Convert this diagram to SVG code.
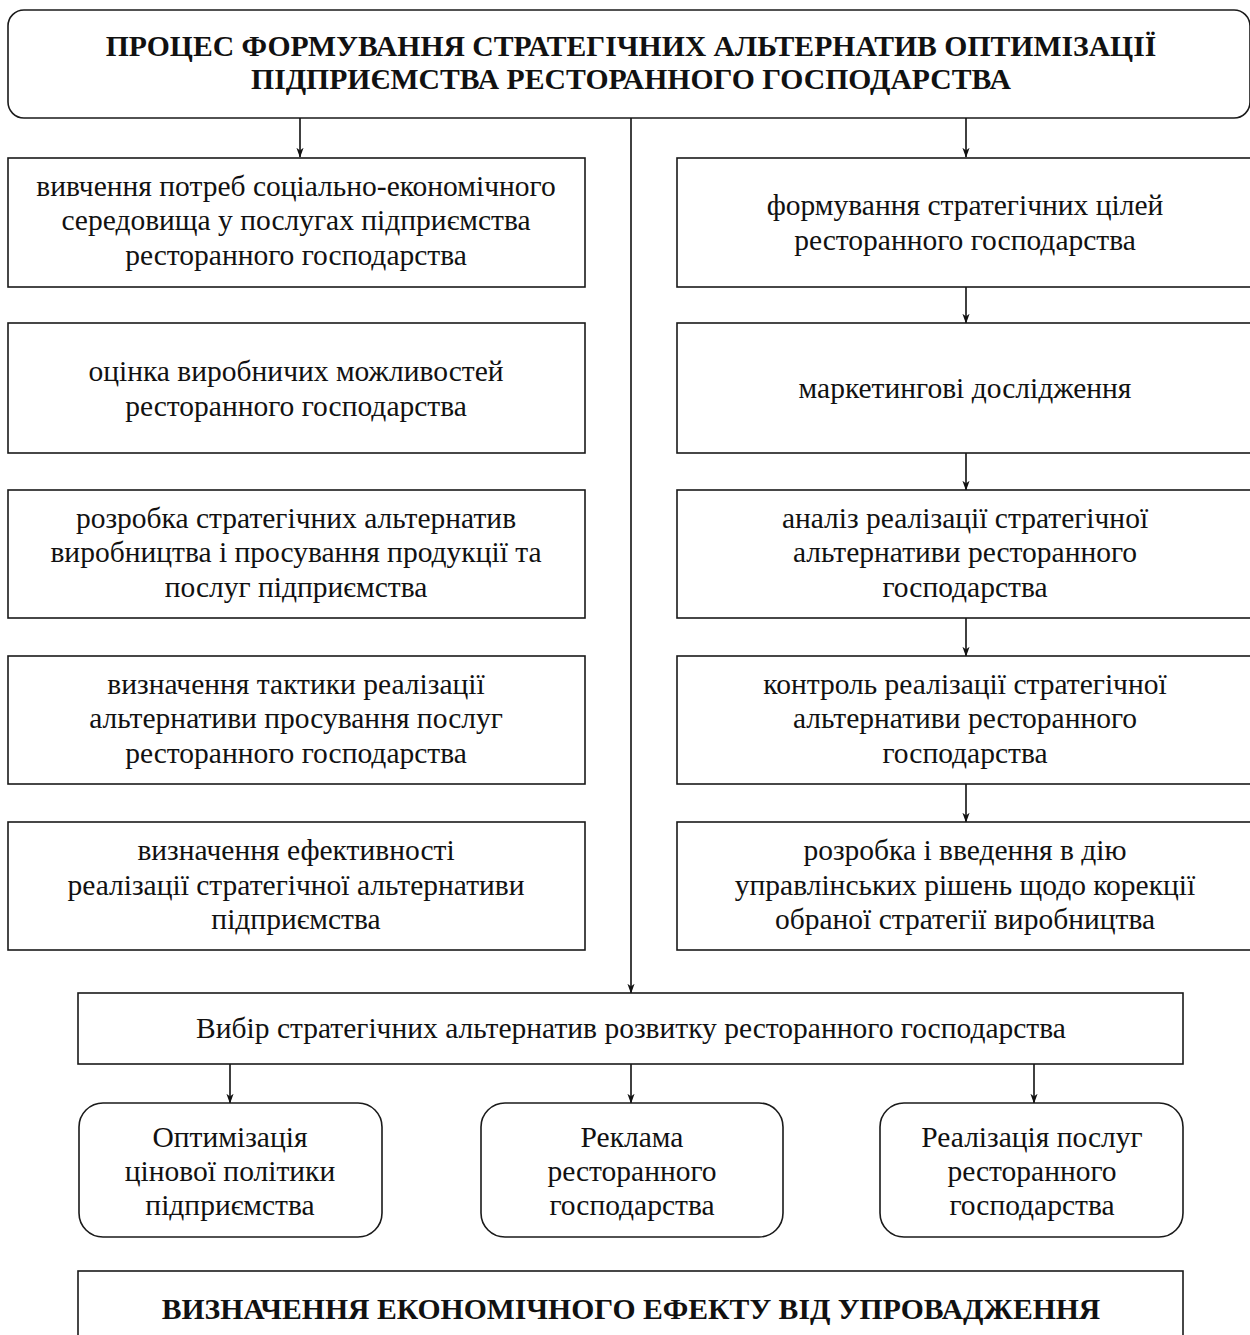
<svg xmlns="http://www.w3.org/2000/svg" width="1250" height="1335" viewBox="0 0 1250 1335">
<style>
.box{fill:#fff;stroke:#1a1a1a;stroke-width:1.6}
.t{font-family:"Liberation Serif","Times New Roman",serif;font-size:29.5px;fill:#111;text-anchor:middle}
.h{font-family:"Liberation Serif","Times New Roman",serif;font-size:29.7px;font-weight:bold;fill:#111;text-anchor:middle}
.c{stroke:#111;stroke-width:1.6;fill:none}
</style>
<defs>
<marker id="arr" markerWidth="10" markerHeight="14" refX="13" refY="5" orient="auto" markerUnits="userSpaceOnUse" viewBox="0 0 14 10">
<path d="M0,0 L4,5 L0,10 L14,5 Z" fill="#111"/>
</marker>
</defs>

<g id="title">
<rect class="box" x="8" y="10" width="1242" height="108" rx="16"/>
<text class="h" x="631" y="56">ПРОЦЕС ФОРМУВАННЯ СТРАТЕГІЧНИХ АЛЬТЕРНАТИВ ОПТИМІЗАЦІЇ</text>
<text class="h" x="631" y="89">ПІДПРИЄМСТВА РЕСТОРАННОГО ГОСПОДАРСТВА</text>
</g>

<g id="connectors">
<line class="c" x1="300" y1="118" x2="300" y2="157" marker-end="url(#arr)"/>
<line class="c" x1="966" y1="118" x2="966" y2="157" marker-end="url(#arr)"/>
<line class="c" x1="631" y1="118" x2="631" y2="993" marker-end="url(#arr)"/>
<line class="c" x1="966" y1="287" x2="966" y2="323" marker-end="url(#arr)"/>
<line class="c" x1="966" y1="453" x2="966" y2="490" marker-end="url(#arr)"/>
<line class="c" x1="966" y1="618" x2="966" y2="656" marker-end="url(#arr)"/>
<line class="c" x1="966" y1="784" x2="966" y2="822" marker-end="url(#arr)"/>
<line class="c" x1="230" y1="1064" x2="230" y2="1103" marker-end="url(#arr)"/>
<line class="c" x1="631" y1="1064" x2="631" y2="1103" marker-end="url(#arr)"/>
<line class="c" x1="1034" y1="1064" x2="1034" y2="1103" marker-end="url(#arr)"/>
</g>

<g id="l1">
<rect class="box" x="8" y="158" width="577" height="129"/>
<text class="t" x="296" y="196">вивчення потреб соціально-економічного</text>
<text class="t" x="296" y="230">середовища у послугах підприємства</text>
<text class="t" x="296" y="265">ресторанного господарства</text>
</g>
<g id="l2">
<rect class="box" x="8" y="323" width="577" height="130"/>
<text class="t" x="296" y="381">оцінка виробничих можливостей</text>
<text class="t" x="296" y="416">ресторанного господарства</text>
</g>
<g id="l3">
<rect class="box" x="8" y="490" width="577" height="128"/>
<text class="t" x="296" y="528">розробка стратегічних альтернатив</text>
<text class="t" x="296" y="562">виробництва і просування продукції та</text>
<text class="t" x="296" y="597">послуг підприємства</text>
</g>
<g id="l4">
<rect class="box" x="8" y="656" width="577" height="128"/>
<text class="t" x="296" y="694">визначення тактики реалізації</text>
<text class="t" x="296" y="728">альтернативи просування послуг</text>
<text class="t" x="296" y="763">ресторанного господарства</text>
</g>
<g id="l5">
<rect class="box" x="8" y="822" width="577" height="128"/>
<text class="t" x="296" y="860">визначення ефективності</text>
<text class="t" x="296" y="895">реалізації стратегічної альтернативи</text>
<text class="t" x="296" y="929">підприємства</text>
</g>

<g id="r1">
<rect class="box" x="677" y="158" width="580" height="129"/>
<text class="t" x="965" y="215">формування стратегічних цілей</text>
<text class="t" x="965" y="250">ресторанного господарства</text>
</g>
<g id="r2">
<rect class="box" x="677" y="323" width="580" height="130"/>
<text class="t" x="965" y="398">маркетингові дослідження</text>
</g>
<g id="r3">
<rect class="box" x="677" y="490" width="580" height="128"/>
<text class="t" x="965" y="528">аналіз реалізації стратегічної</text>
<text class="t" x="965" y="562">альтернативи ресторанного</text>
<text class="t" x="965" y="597">господарства</text>
</g>
<g id="r4">
<rect class="box" x="677" y="656" width="580" height="128"/>
<text class="t" x="965" y="694">контроль реалізації стратегічної</text>
<text class="t" x="965" y="728">альтернативи ресторанного</text>
<text class="t" x="965" y="763">господарства</text>
</g>
<g id="r5">
<rect class="box" x="677" y="822" width="580" height="128"/>
<text class="t" x="965" y="860">розробка і введення в дію</text>
<text class="t" x="965" y="895">управлінських рішень щодо корекції</text>
<text class="t" x="965" y="929">обраної стратегії виробництва</text>
</g>

<g id="choice">
<rect class="box" x="78" y="993" width="1105" height="71"/>
<text class="t" x="631" y="1038">Вибір стратегічних альтернатив розвитку ресторанного господарства</text>
</g>

<g id="b1">
<rect class="box" x="79" y="1103" width="303" height="134" rx="24"/>
<text class="t" x="230" y="1147">Оптимізація</text>
<text class="t" x="230" y="1181">цінової політики</text>
<text class="t" x="230" y="1215">підприємства</text>
</g>
<g id="b2">
<rect class="box" x="481" y="1103" width="302" height="134" rx="24"/>
<text class="t" x="632" y="1147">Реклама</text>
<text class="t" x="632" y="1181">ресторанного</text>
<text class="t" x="632" y="1215">господарства</text>
</g>
<g id="b3">
<rect class="box" x="880" y="1103" width="303" height="134" rx="24"/>
<text class="t" x="1032" y="1147">Реалізація послуг</text>
<text class="t" x="1032" y="1181">ресторанного</text>
<text class="t" x="1032" y="1215">господарства</text>
</g>

<g id="effect">
<rect class="box" x="78" y="1271" width="1105" height="80"/>
<text class="h" x="631" y="1319">ВИЗНАЧЕННЯ ЕКОНОМІЧНОГО ЕФЕКТУ ВІД УПРОВАДЖЕННЯ</text>
</g>
</svg>
